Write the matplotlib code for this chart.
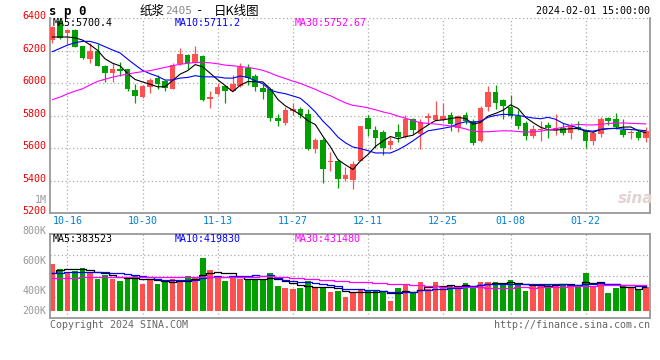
import numpy as np
import pandas as pd
import matplotlib
matplotlib.use('Agg')
import matplotlib.pyplot as plt

# ---------------- data ----------------
dates = pd.bdate_range('2023-10-12', '2024-02-01')
dates = dates[dates != pd.Timestamp('2024-01-01')]

open_ = [6265, 6385, 6308, 6328, 6228, 6150, 6200, 6108, 6062, 6090,
         6085, 5958, 5915, 5975, 6032, 6012, 5968, 6118, 6175, 6128,
         6170, 5905, 5932, 5983, 5955, 5984, 6097, 6047, 5974, 5965,
         5788, 5755, 5830, 5843, 5812, 5598, 5650, 5513, 5523, 5410,
         5408, 5523, 5788, 5710, 5700, 5623, 5700, 5669, 5778, 5690,
         5789, 5776, 5772, 5808, 5724, 5802, 5765, 5643, 5853, 5949,
         5900, 5857, 5796, 5757, 5675, 5710, 5741, 5710, 5725, 5694,
         5731, 5706, 5645, 5690, 5786, 5778, 5710, 5694, 5700, 5664]
high = [6355, 6400, 6330, 6335, 6230, 6245, 6240, 6115, 6128, 6130,
        6088, 5995, 5990, 6035, 6050, 6018, 6122, 6215, 6182, 6230,
        6175, 5955, 6000, 5990, 6050, 6125, 6120, 6055, 5995, 5968,
        5810, 5853, 5878, 5853, 5843, 5663, 5663, 5578, 5537, 5486,
        5520, 5738, 5808, 5737, 5710, 5670, 5747, 5808, 5785, 5782,
        5816, 5894, 5878, 5822, 5808, 5822, 5778, 5859, 5981, 5990,
        5905, 5931, 5833, 5771, 5741, 5765, 5761, 5812, 5757, 5757,
        5771, 5720, 5710, 5792, 5792, 5818, 5782, 5714, 5710, 5731]
low = [6245, 6270, 6240, 6222, 6148, 6125, 6105, 6005, 6008, 6045,
       5955, 5880, 5910, 5942, 5965, 5955, 5962, 6112, 6085, 6125,
       5892, 5845, 5925, 5878, 5950, 5980, 5990, 5952, 5905, 5770,
       5735, 5745, 5808, 5786, 5588, 5572, 5385, 5460, 5353, 5400,
       5347, 5520, 5675, 5604, 5560, 5598, 5638, 5665, 5690, 5598,
       5752, 5770, 5768, 5705, 5700, 5750, 5618, 5638, 5829, 5839,
       5782, 5786, 5716, 5653, 5663, 5643, 5663, 5680, 5680, 5659,
       5710, 5602, 5618, 5669, 5741, 5720, 5669, 5655, 5649, 5640]
close = [6345, 6278, 6325, 6225, 6157, 6200, 6108, 6062, 6090, 6076,
         5968, 5922, 5985, 6020, 5997, 5970, 6115, 6180, 6128, 6183,
         5900, 5918, 5980, 5950, 5993, 6100, 6030, 5975, 5945, 5788,
         5766, 5833, 5843, 5808, 5598, 5649, 5472, 5522, 5414, 5435,
         5506, 5735, 5717, 5663, 5602, 5645, 5668, 5778, 5710, 5762,
         5798, 5806, 5798, 5752, 5796, 5765, 5633, 5849, 5949, 5878,
         5863, 5798, 5737, 5675, 5716, 5720, 5722, 5727, 5694, 5741,
         5721, 5645, 5694, 5778, 5768, 5731, 5680, 5700, 5664, 5704]
volume_k = [790, 700, 638, 666, 722, 655, 532, 599, 532, 498,
            571, 582, 448, 532, 448, 487, 532, 476, 582, 554,
            890, 683, 571, 498, 560, 532, 532, 532, 526, 638,
            414, 386, 364, 386, 498, 375, 375, 319, 330, 235,
            319, 364, 330, 330, 308, 162, 386, 431, 308, 487,
            364, 487, 414, 414, 403, 470, 403, 487, 487, 487,
            448, 515, 431, 336, 448, 448, 448, 448, 448, 426,
            420, 638, 403, 487, 302, 386, 431, 375, 358, 403]

ma5_lead = [6285, 6285, 6285, 6280]
ma10_lead = [6195, 6215, 6235, 6250, 6258, 6258, 6245, 6225, 6205]
ma30_lead = [5900, 5915, 5935, 5952, 5966, 5990, 6012, 6025, 6038, 6048,
             6057, 6065, 6072, 6078, 6088, 6098, 6108, 6117, 6123, 6128,
             6129, 6126, 6120, 6112, 6108, 6103, 6098, 6090, 6080]
vma5_lead = [640, 683, 694, 694]
vma10_lead = [627, 638, 650, 655, 655, 655, 650, 644, 633]
vma30_lead = [543, 548, 553, 557, 560, 563, 566, 568, 570, 571,
              571, 571, 571, 571, 571, 571, 571, 570, 568, 566,
              564, 562, 562, 563, 565, 567, 570, 574, 578]

tick_dates = ['10-16', '10-30', '11-13', '11-27', '12-11', '12-25', '01-08', '01-22']
price_ticks = [6400, 6200, 6000, 5800, 5600, 5400, 5200]


def with_lead(values, window, lead):
    out = pd.Series(values, dtype=float).rolling(window).mean().to_numpy()
    out[:len(lead)] = lead
    return out


ma5 = with_lead(close, 5, ma5_lead)
ma10 = with_lead(close, 10, ma10_lead)
ma30 = with_lead(close, 30, ma30_lead)
vma5 = with_lead(volume_k, 5, vma5_lead)
vma10 = with_lead(volume_k, 10, vma10_lead)
vma30 = with_lead(volume_k, 30, vma30_lead)

# ---------------- style ----------------
W, H = 660, 360
MONO = 'DejaVu Sans Mono'
CJK = ['Noto Sans CJK SC', 'DejaVu Sans']
RED = '#FF5050'
GREEN = '#00A000'
GRID = '#AAAAAA'
BORDER = '#999999'
FS = 7.2


def fx(x):
    return x / W


def fy(y):
    return 1 - y / H


fig = plt.figure(figsize=(W / 100, H / 100), dpi=100)
fig.patch.set_facecolor('white')

axp = fig.add_axes([fx(50), fy(213.3), 600 / W, (213.3 - 18.3) / H])
axv = fig.add_axes([fx(50), fy(317.7), 600 / W, (317.7 - 234.3) / H])

n = len(close)
x = np.arange(n)
labels = [d.strftime('%m-%d') for d in dates]
tick_pos = [labels.index(t) for t in tick_dates]

for ax in (axp, axv):
    ax.set_xlim(-0.33, n - 1 + 0.56)
    ax.set_xticks([])
    ax.set_yticks([])
    for s in ax.spines.values():
        s.set_color(BORDER)
        s.set_linewidth(1.3)
    for p in tick_pos:
        ax.axvline(p, color=GRID, lw=0.9, ls=(0, (1, 2)), zorder=0)

# ---- price panel ----
axp.set_ylim(5200, 6400)
axp.spines['top'].set_visible(False)
for v in [6400, 6200, 6000, 5800, 5600, 5400]:
    axp.axhline(v, color=GRID, lw=0.9, ls=(0, (1, 2)), zorder=0)

for i in range(n):
    o, h, l, c = open_[i], high[i], low[i], close[i]
    col = RED if c >= o else GREEN
    axp.vlines(i, l, h, color=col, lw=0.9, zorder=2)
    bh = max(abs(c - o), 5)
    axp.bar(i, bh, bottom=min(o, c), width=0.74, color=col, lw=0, zorder=3)

axp.plot(x, ma5, color='black', lw=0.8, zorder=4)
axp.plot(x, ma10, color='#0000FF', lw=0.8, zorder=4)
axp.plot(x, ma30, color='#FF00FF', lw=0.8, zorder=4)

# ---- volume panel ----
vlo, vhi = -117.6, 1283.5
axv.set_ylim(vlo, vhi)
for q in (0.25, 0.5, 0.75):
    axv.axhline(vlo + q * (vhi - vlo), color=GRID, lw=0.9, ls=(0, (1, 2)), zorder=0)
vcols = [RED if close[i] >= open_[i] else GREEN for i in range(n)]
axv.bar(x, volume_k, width=0.76, color=vcols, lw=0, zorder=2)
axv.plot(x, vma5, color='black', lw=0.9, drawstyle='steps-mid', zorder=4)
axv.plot(x, vma10, color='#0000FF', lw=0.9, drawstyle='steps-mid', zorder=4)
axv.plot(x, vma30, color='#FF00FF', lw=0.9, drawstyle='steps-mid', zorder=4)

# ---------------- texts ----------------
for v in price_ticks:
    ypix = 18.3 + (6400 - v) / 1200 * 195
    fig.text(fx(46.5), fy(ypix - 2), str(v), color='#EE0000', fontsize=FS,
             family=MONO, ha='right', va='center')
fig.text(fx(46.5), fy(200), '1M', color='#999999', fontsize=FS, family=MONO,
         ha='right', va='center')
for lab, ypix in [('800K', 231), ('600K', 260.7), ('400K', 290.7), ('200K', 310.7)]:
    fig.text(fx(46.5), fy(ypix), lab, color='#999999', fontsize=FS, family=MONO,
             ha='right', va='center')

for t, p in zip(tick_dates, tick_pos):
    xp = 52.5 + p * 7.51
    fig.text(fx(xp), fy(220.5), t, color='#0080D0', fontsize=FS, family=MONO,
             ha='center', va='center')

fig.text(fx(53), fy(23.5), 'MA5:5700.4', color='black', fontsize=FS, family=MONO, va='center')
fig.text(fx(175), fy(23.5), 'MA10:5711.2', color='#0000FF', fontsize=FS, family=MONO, va='center')
fig.text(fx(295), fy(23.5), 'MA30:5752.67', color='#FF00FF', fontsize=FS, family=MONO, va='center')
fig.text(fx(53), fy(238.5), 'MA5:383523', color='black', fontsize=FS, family=MONO, va='center')
fig.text(fx(175), fy(238.5), 'MA10:419830', color='#0000FF', fontsize=FS, family=MONO, va='center')
fig.text(fx(295), fy(238.5), 'MA30:431480', color='#FF00FF', fontsize=FS, family=MONO, va='center')

fig.text(fx(49), fy(11), 's p 0', color='black', fontsize=9, family=MONO,
         weight='bold', va='center')
fig.text(fx(140), fy(11), '纸浆', color='black', fontsize=9, family=CJK, va='center')
fig.text(fx(165.5), fy(11), '2405', color='#888888', fontsize=8, family=MONO, va='center')
fig.text(fx(196), fy(11), '-', color='black', fontsize=9, family=MONO, va='center')
fig.text(fx(214), fy(11), '日K线图', color='black', fontsize=9, family=CJK, va='center')
fig.text(fx(650), fy(11.5), '2024-02-01 15:00:00', color='black', fontsize=FS,
         family=MONO, ha='right', va='center')

fig.text(fx(50), fy(324.5), 'Copyright 2024 SINA.COM', color='#666666', fontsize=FS,
         family=MONO, va='center')
fig.text(fx(650), fy(324.5), 'http://finance.sina.com.cn', color='#666666', fontsize=FS,
         family=MONO, ha='right', va='center')

fig.text(fx(636), fy(198), 'sina', color='#E2D2D2', fontsize=11, family='DejaVu Sans',
         style='italic', weight='bold', ha='center', va='center')

fig.savefig('out.png', dpi=100)
